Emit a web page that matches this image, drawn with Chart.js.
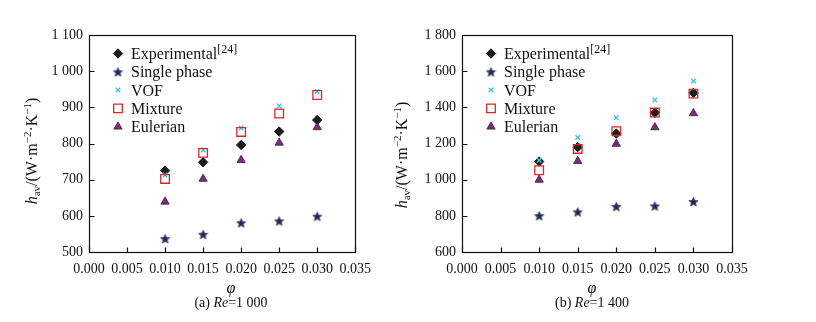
<!DOCTYPE html>
<html>
<head>
<meta charset="utf-8">
<script src="https://cdn.jsdelivr.net/npm/chart.js@4.4.0/dist/chart.umd.min.js"></script>
<style>
  html, body { margin: 0; padding: 0; background: #fff; }
  #wrap { position: relative; width: 816px; height: 322px; overflow: hidden; }
  canvas { position: absolute; top: 0; }
  #chartA { left: 0; }
  #chartB { left: 380px; }
</style>
</head>
<body>
<div id="wrap">
  <canvas id="chartA" width="380" height="322"></canvas>
  <canvas id="chartB" width="436" height="322"></canvas>
</div>
<script>
// Nanofluid volume fractions (x values shared by both panels)
const phi = [0.010, 0.015, 0.020, 0.025, 0.030];

const seriesNames = ['Experimental', 'Single phase', 'VOF', 'Mixture', 'Eulerian'];

// Average heat transfer coefficient, Re = 1 000
const expRe1000    = [725, 748, 796, 833, 865];
const singleRe1000 = [537, 549, 581, 586, 599];
const vofRe1000    = [713, 782, 843, 904, 944];
const mixRe1000    = [702, 774, 832, 883, 934];
const eulRe1000    = [639, 702, 754, 802, 845];

// Average heat transfer coefficient, Re = 1 400
const expRe1400    = [1100, 1180, 1255, 1370, 1480];
const singleRe1400 = [801, 822, 852, 855, 879];
const vofRe1400    = [1107, 1233, 1343, 1441, 1546];
const mixRe1400    = [1052, 1170, 1268, 1371, 1476];
const eulRe1400    = [999, 1103, 1198, 1289, 1367];

const SERIF = '"Liberation Serif", "Times New Roman", serif';
const INK = '#111';

// five-pointed star marker (Chart.js 'star' is an asterisk, not a filled star)
function makeStar(size, fill, edge) {
  const c = document.createElement('canvas');
  c.width = c.height = size;
  const g = c.getContext('2d');
  const cx = size / 2, cy = size / 2 + 0.6, ro = size / 2 - 0.6, ri = ro * 0.45;
  g.beginPath();
  for (let i = 0; i < 10; i++) {
    const r = i % 2 ? ri : ro;
    const a = -Math.PI / 2 + i * Math.PI / 5;
    g.lineTo(cx + r * Math.cos(a), cy + r * Math.sin(a));
  }
  g.closePath();
  g.fillStyle = fill;
  g.fill();
  g.strokeStyle = edge;
  g.lineWidth = 0.7;
  g.stroke();
  return c;
}
const starImg = makeStar(11, '#25255f', '#3c3c5c');

const markerStyles = [
  { pointStyle: 'rectRot', radius: 4.7, backgroundColor: '#1c1c1c', borderColor: '#1c1c1c', borderWidth: 1 },
  { pointStyle: starImg, radius: 5, backgroundColor: '#25255f', borderColor: '#25255f', borderWidth: 1 },
  { pointStyle: 'crossRot', radius: 3.2, backgroundColor: '#3ec3e8', borderColor: '#3ec3e8', borderWidth: 1.4 },
  { pointStyle: 'rect', radius: 6.1, backgroundColor: 'rgba(255,255,255,0)', borderColor: '#d3292b', borderWidth: 1.3 },
  { pointStyle: 'triangle', radius: 4.8, backgroundColor: '#7d2b80', borderColor: '#3a1c3c', borderWidth: 0.8 }
];

function toPoints(ys) {
  return phi.map((x, i) => ({ x: x, y: ys[i] }));
}

function fmtThousands(v) {
  const s = String(Math.round(v));
  return s.length > 3 ? s.slice(0, s.length - 3) + ' ' + s.slice(-3) : s;
}

// draws a run of [text, font, dy] pieces left to right, returns total width
function drawRuns(ctx, runs, x, y) {
  let cx = x;
  runs.forEach(r => {
    ctx.font = r[1];
    ctx.fillText(r[0], cx, y + (r[2] || 0));
    cx += ctx.measureText(r[0]).width;
  });
  return cx - x;
}
function measureRuns(ctx, runs) {
  let w = 0;
  runs.forEach(r => { ctx.font = r[1]; w += ctx.measureText(r[0]).width; });
  return w;
}

// frame, inward ticks, axis titles, caption and in-plot legend
const panelDecor = {
  id: 'panelDecor',
  afterDraw(chart, args, opts) {
    const ctx = chart.ctx;
    const a = chart.chartArea;
    const xs = chart.scales.x, ys = chart.scales.y;
    const L = Math.round(a.left) + 0.5, R = Math.round(a.right) + 0.5;
    const T = Math.round(a.top) + 0.5, B = Math.round(a.bottom) + 0.5;

    ctx.save();
    ctx.strokeStyle = INK;
    ctx.lineWidth = 1.2;
    ctx.strokeRect(L, T, R - L, B - T);

    ctx.beginPath();
    ys.ticks.forEach(t => {
      const py = Math.round(ys.getPixelForValue(t.value)) + 0.5;
      ctx.moveTo(L, py); ctx.lineTo(L + 5, py);
    });
    xs.ticks.forEach(t => {
      const px = Math.round(xs.getPixelForValue(t.value)) + 0.5;
      ctx.moveTo(px, B); ctx.lineTo(px, B - 5);
    });
    ctx.stroke();

    ctx.fillStyle = INK;
    ctx.textBaseline = 'alphabetic';

    // y title, rotated
    const yRuns = [
      ['h', 'italic 16px ' + SERIF, 0],
      ['av', '11px ' + SERIF, 3],
      ['/(W·m', '16px ' + SERIF, 0],
      ['−2', '11px ' + SERIF, -6],
      ['·K', '16px ' + SERIF, 0],
      ['−1', '11px ' + SERIF, -6],
      [')', '16px ' + SERIF, 0]
    ];
    const yw = measureRuns(ctx, yRuns);
    ctx.save();
    ctx.translate(opts.yTitleX, opts.yTitleY);
    ctx.rotate(-Math.PI / 2);
    drawRuns(ctx, yRuns, -yw / 2, 5);
    ctx.restore();

    // x title and caption
    ctx.textAlign = 'left';
    const phiRuns = [['φ', 'italic 16px ' + SERIF, 0]];
    drawRuns(ctx, phiRuns, opts.xTitleX - measureRuns(ctx, phiRuns) / 2, 293);
    const capRuns = [
      [opts.caption[0], '14px ' + SERIF, 0],
      ['Re', 'italic 14px ' + SERIF, 0],
      [opts.caption[1], '14px ' + SERIF, 0]
    ];
    drawRuns(ctx, capRuns, opts.xTitleX - measureRuns(ctx, capRuns) / 2, 307);

    // legend
    chart.data.datasets.forEach((ds, i) => {
      const my = a.top + 18.5 + i * 18.3;
      const mx = a.left + 29;
      ctx.fillStyle = ds.backgroundColor;
      ctx.strokeStyle = ds.borderColor;
      ctx.lineWidth = ds.borderWidth;
      Chart.helpers.drawPoint(ctx, {
        pointStyle: ds.pointStyle, radius: ds.pointRadius, rotation: 0, borderWidth: ds.borderWidth
      }, mx, my);
      ctx.fillStyle = INK;
      const runs = [[ds.label, '16px ' + SERIF, 0]];
      if (i === 0) runs.push(['[24]', '12px ' + SERIF, -6]);
      drawRuns(ctx, runs, mx + 13, my + 5.5);
    });
    ctx.restore();
  }
};

function buildDatasets(seriesList) {
  return seriesList.map((ys, i) => {
    const m = markerStyles[i];
    return {
      label: seriesNames[i],
      data: toPoints(ys),
      showLine: false,
      pointStyle: m.pointStyle,
      pointRadius: m.radius,
      pointHoverRadius: m.radius,
      backgroundColor: m.backgroundColor,
      borderColor: m.borderColor,
      borderWidth: m.borderWidth,
      // later legend entries sit on top
      order: seriesNames.length - i
    };
  });
}

function makePanel(canvasId, seriesList, yMin, yMax, yStep, yAxisWidth, padRight, decor) {
  const tickFont = { family: SERIF, size: 14 };
  return new Chart(document.getElementById(canvasId), {
    type: 'scatter',
    data: { datasets: buildDatasets(seriesList) },
    options: {
      responsive: false,
      animation: false,
      devicePixelRatio: 1,
      layout: { padding: { top: 35, right: padRight, bottom: 0, left: 0 } },
      plugins: {
        legend: { display: false },
        tooltip: { enabled: false },
        panelDecor: decor
      },
      scales: {
        x: {
          type: 'linear',
          min: 0,
          max: 0.035,
          ticks: {
            stepSize: 0.005,
            padding: 9,
            color: INK,
            font: tickFont,
            maxRotation: 0,
            autoSkip: false,
            callback: v => v.toFixed(3)
          },
          grid: { display: false, drawTicks: false },
          border: { display: false },
          afterFit: s => { s.height = 70; }
        },
        y: {
          type: 'linear',
          min: yMin,
          max: yMax,
          ticks: {
            stepSize: yStep,
            padding: 6,
            color: INK,
            font: tickFont,
            callback: v => fmtThousands(v)
          },
          grid: { display: false, drawTicks: false },
          border: { display: false },
          afterFit: s => { s.width = yAxisWidth; }
        }
      }
    },
    plugins: [panelDecor]
  });
}

makePanel('chartA',
  [expRe1000, singleRe1000, vofRe1000, mixRe1000, eulRe1000],
  500, 1100, 100, 89, 21,
  { yTitleX: 32, yTitleY: 151, xTitleX: 231, caption: ['(a) ', '=1 000'] });

makePanel('chartB',
  [expRe1400, singleRe1400, vofRe1400, mixRe1400, eulRe1400],
  600, 1800, 200, 82, 84,
  { yTitleX: 22, yTitleY: 155, xTitleX: 212, caption: ['(b) ', '=1 400'] });
</script>
</body>
</html>
